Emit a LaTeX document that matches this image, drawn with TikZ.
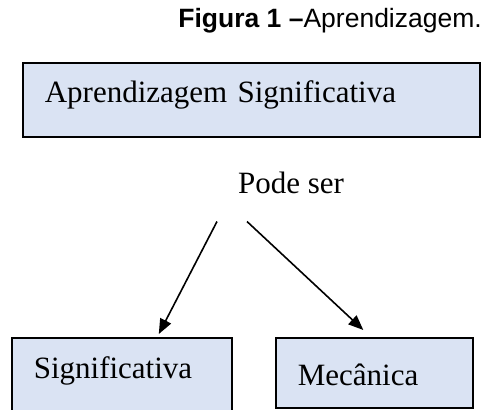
\documentclass[tikz,border=0pt]{standalone}
\usepackage{fontspec}
\setmainfont{Liberation Serif}
\newfontfamily\arialfont{Liberation Sans}
\usetikzlibrary{arrows.meta}
\definecolor{azulclaro}{RGB}{218,227,243}

\begin{document}
\begin{tikzpicture}[x=1pt, y=-1pt,
    conceito/.style={draw=black, line width=1.6pt, fill=azulclaro, anchor=north west,
        align=left, inner xsep=22pt, inner ysep=0pt, font=\fontsize{31}{37}\selectfont},
    seta/.style={-{Triangle[length=15pt,width=12pt]}, line width=1.6pt}]

    \useasboundingbox (0,0) rectangle (488,410);
    \clip (0,0) rectangle (488,410);

    % Title
    \node[anchor=base east, inner sep=0pt, font=\arialfont\fontsize{26.5}{32}\selectfont] (titulo) at (482,27)
        {\textbf{Figura 1 –}Aprendizagem.};

    % Boxes
    \node[conceito, text width=413pt, text height=40pt, text depth=34pt] (aprend) at (22,62)
        {Aprendizagem Significativa};
    \node[conceito, text width=176pt, text height=41pt, text depth=45pt] (sig) at (11,337)
        {Significativa};
    \node[conceito, text width=153pt, text height=48pt, text depth=22pt] (mec) at (275,337)
        {Mecânica};

    % Label
    \node[anchor=base, inner sep=0pt, font=\fontsize{31}{37}\selectfont] (pode) at (291,193) {Pode ser};

    % Arrows
    \draw[seta] ([xshift=-74pt,yshift=-28pt]pode.south) -- ([xshift=37pt,yshift=3pt]sig.north);
    \draw[seta] ([xshift=-44pt,yshift=-28pt]pode.south) -- ([xshift=-11pt,yshift=7pt]mec.north);

\end{tikzpicture}
\end{document}
